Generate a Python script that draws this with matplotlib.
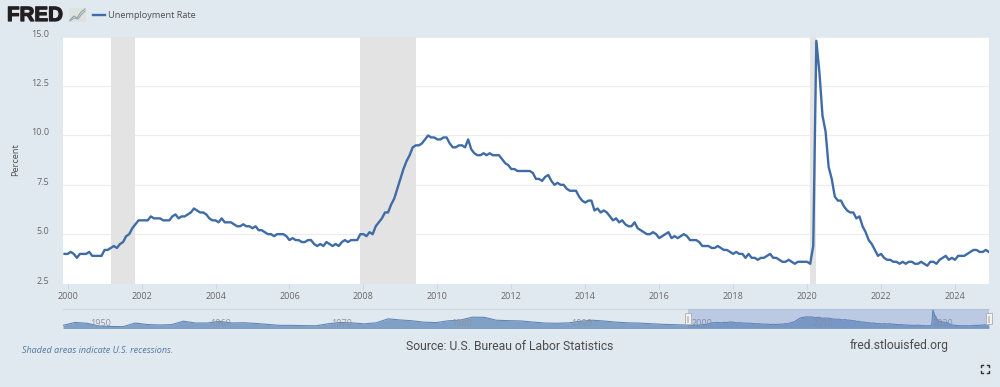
import matplotlib
matplotlib.use('Agg')
import matplotlib.pyplot as plt
import matplotlib.patheffects as pe
from matplotlib.patches import Rectangle
from matplotlib.transforms import ScaledTranslation
import numpy as np

# monthly unemployment rate, Dec 1999 - Dec 2024
rate = [4.0,
    4.0,4.1,4.0,3.8,4.0,4.0,4.0,4.1,3.9,3.9,3.9,3.9,
    4.2,4.2,4.3,4.4,4.3,4.5,4.6,4.9,5.0,5.3,5.5,5.7,
    5.7,5.7,5.7,5.9,5.8,5.8,5.8,5.7,5.7,5.7,5.9,6.0,
    5.8,5.9,5.9,6.0,6.1,6.3,6.2,6.1,6.1,6.0,5.8,5.7,
    5.7,5.6,5.8,5.6,5.6,5.6,5.5,5.4,5.4,5.5,5.4,5.4,
    5.3,5.4,5.2,5.2,5.1,5.0,5.0,4.9,5.0,5.0,5.0,4.9,
    4.7,4.8,4.7,4.7,4.6,4.6,4.7,4.7,4.5,4.4,4.5,4.4,
    4.6,4.5,4.4,4.5,4.4,4.6,4.7,4.6,4.7,4.7,4.7,5.0,
    5.0,4.9,5.1,5.0,5.4,5.6,5.8,6.1,6.1,6.5,6.8,7.3,
    7.8,8.3,8.7,9.0,9.4,9.5,9.5,9.6,9.8,10.0,9.9,9.9,
    9.8,9.8,9.9,9.9,9.6,9.4,9.4,9.5,9.5,9.4,9.8,9.3,
    9.1,9.0,9.0,9.1,9.0,9.1,9.0,9.0,9.0,8.8,8.6,8.5,
    8.3,8.3,8.2,8.2,8.2,8.2,8.2,8.1,7.8,7.8,7.7,7.9,
    8.0,7.7,7.5,7.6,7.5,7.5,7.3,7.2,7.2,7.2,6.9,6.7,
    6.6,6.7,6.7,6.2,6.3,6.1,6.2,6.1,5.9,5.7,5.8,5.6,
    5.7,5.5,5.4,5.4,5.6,5.3,5.2,5.1,5.0,5.0,5.1,5.0,
    4.8,4.9,5.0,5.1,4.8,4.9,4.8,4.9,5.0,4.9,4.7,4.7,
    4.7,4.6,4.4,4.4,4.4,4.3,4.3,4.4,4.3,4.2,4.2,4.1,
    4.0,4.1,4.0,4.0,3.8,4.0,3.8,3.8,3.7,3.8,3.8,3.9,
    4.0,3.8,3.8,3.7,3.6,3.6,3.7,3.6,3.5,3.6,3.6,3.6,
    3.6,3.5,4.4,14.8,13.2,11.0,10.2,8.4,7.8,6.9,6.7,6.7,
    6.4,6.2,6.1,6.1,5.8,5.9,5.4,5.1,4.7,4.5,4.2,3.9,
    4.0,3.8,3.7,3.7,3.6,3.6,3.5,3.6,3.5,3.6,3.6,3.5,
    3.5,3.6,3.5,3.4,3.6,3.6,3.5,3.7,3.8,3.9,3.7,3.8,
    3.7,3.9,3.9,3.9,4.0,4.1,4.2,4.2,4.1,4.1,4.2,4.1]

# yearly values for the navigator strip, 1948 - 1999
nav_years = list(range(1948, 2000))
nav_rate = [3.8,5.9,5.3,3.3,3.0,2.9,5.5,4.4,4.1,4.3,6.8,5.5,5.5,6.7,5.5,5.7,5.2,4.5,3.8,3.8,
    3.6,3.5,4.9,5.9,5.6,4.9,5.6,8.5,7.7,7.1,6.1,5.8,7.1,7.6,9.7,9.6,7.5,7.2,7.0,6.2,
    5.5,5.3,5.6,6.8,7.5,6.9,6.1,5.6,5.4,4.9,4.5,4.2]

recessions = [(2001.17, 2001.83), (2007.92, 2009.42), (2020.08, 2020.25)]
y_ticks = [2.5, 5.0, 7.5, 10.0, 12.5, 15.0]
x_ticks = list(range(2000, 2025, 2))
nav_ticks = list(range(1950, 2030, 10))

bg = '#e1e9f0'
blue = '#3f6ca6'
tick_col = '#666666'
W, H = 1000.0, 387.0

months = 1999 + 11/12 + np.arange(len(rate))/12

plt.rcParams['font.family'] = ['Open Sans', 'DejaVu Sans']
fig = plt.figure(figsize=(10, 3.87), dpi=100, facecolor=bg)

def box(l, t, r, b):
    return [l/W, 1-b/H, (r-l)/W, (b-t)/H]

ax = fig.add_axes(box(63, 36.8, 989, 283.5))
ax.set_facecolor('white')
for a, b in recessions:
    ax.axvspan(a, b, color='#e3e3e3', lw=0, zorder=1)
ax.plot(months, rate, color=blue, lw=1.7, zorder=3, solid_joinstyle='round')
ax.set_xlim(1999.875, 2024.92)
ax.set_ylim(2.5, 15)
ax.set_yticks(y_ticks)
ax.set_yticklabels(['%.1f' % v for v in y_ticks], fontsize=6.5, color=tick_col, va='center')
ax.set_xticks(x_ticks)
ax.set_xticklabels([str(v) for v in x_ticks], fontsize=6.5, color=tick_col)
ax.grid(axis='y', color='#ececec', lw=0.8, zorder=0)
ax.set_axisbelow(True)
ax.tick_params(axis='y', length=0, pad=10)
ax.tick_params(axis='x', length=3.5, width=0.8, color='#ccd6eb', pad=2.5)
for lab in ax.get_yticklabels():
    lab.set_transform(lab.get_transform() + ScaledTranslation(0, 2.5/100, fig.dpi_scale_trans))
for s in ax.spines.values():
    s.set_visible(False)

# navigator
nav = fig.add_axes(box(63, 309, 989, 328))
nav.set_facecolor(bg)
nx = np.concatenate([nav_years, months])
ny = np.concatenate([nav_rate, rate])
nav.set_xlim(1948, 2024.92)
nav.set_ylim(1.9, 15.6)
nav.fill_between(nx, ny, 0, color='#6f93bf', alpha=0.85, lw=0, zorder=2)
nav.plot(nx, ny, color='#6286b6', lw=0.8, zorder=3)
for t in nav_ticks:
    nav.text(t+0.25, 5.3, str(t), fontsize=6.5, color='#8b93a0', ha='left', va='center', zorder=3.5)
nav.add_patch(Rectangle((1999.92, 0), 25, 20, color='#6685c2', alpha=0.3, lw=0, zorder=4))
nav.set_xticks([])
nav.set_yticks([])
for name, s in nav.spines.items():
    s.set_visible(name == 'top')
    s.set_color('#cfd8e3')

# overlay in pixel coordinates for header, footer and widgets
top = fig.add_axes([0, 0, 1, 1], zorder=5)
top.set_xlim(0, W)
top.set_ylim(H, 0)
top.axis('off')
top.patch.set_alpha(0)

logo = top.text(7, 15.5, 'FRED', fontsize=14.8, fontweight='bold', family=['Liberation Sans', 'DejaVu Sans'],
                color='#231f20', va='center', ha='left')
logo.set_path_effects([pe.withStroke(linewidth=0.9, foreground='#231f20')])
top.add_patch(Rectangle((69, 8), 17, 14, color='#dfe3e0', lw=0))
top.plot([70, 74, 77, 81, 85], [20, 16, 18, 12, 9], color='#8fa98c', lw=0.8)
top.plot([70, 74, 78, 81, 85], [21, 18, 19, 15, 11], color='#8ea5c4', lw=0.8)

top.plot([93, 105], [15, 15], color=blue, lw=1.7)
top.text(108.5, 15, 'Unemployment Rate', fontsize=6.6, color='#4d4d4d', va='center', ha='left')
top.text(16, 160, 'Percent', fontsize=6.6, color='#4d4d4d', rotation=90, va='center', ha='center')

top.text(22, 350.5, 'Shaded areas indicate U.S. recessions.', fontsize=6.5, style='italic',
         color='#55779f', va='center', ha='left')
top.text(406, 346, 'Source: U.S. Bureau of Labor Statistics', fontsize=8.75, family=['Roboto', 'DejaVu Sans'],
         color='#4a4a4a', va='center', ha='left')
top.text(850, 346, 'fred.stlouisfed.org', fontsize=8.75, family=['Roboto', 'DejaVu Sans'],
         color='#4a4a4a', va='center', ha='left')

# navigator handles
for hx in [687.5, 988.5]:
    top.add_patch(Rectangle((hx-3, 313), 6, 11, facecolor='#f2f2f2', edgecolor='#b5b5b5', lw=0.7))
    top.plot([hx-0.8, hx-0.8, hx+0.8, hx+0.8], [315.5, 321.5, 321.5, 315.5], color='#b5b5b5', lw=0.5)

# fullscreen icon
cx, cy, d, e = 985, 369, 4, 2
for sx in [-1, 1]:
    for sy in [-1, 1]:
        top.plot([cx+sx*d, cx+sx*d, cx+sx*(d-e)], [cy+sy*(d-e), cy+sy*d, cy+sy*d], color='#333333', lw=1)

fig.savefig('out.png', dpi=100, facecolor=bg)
